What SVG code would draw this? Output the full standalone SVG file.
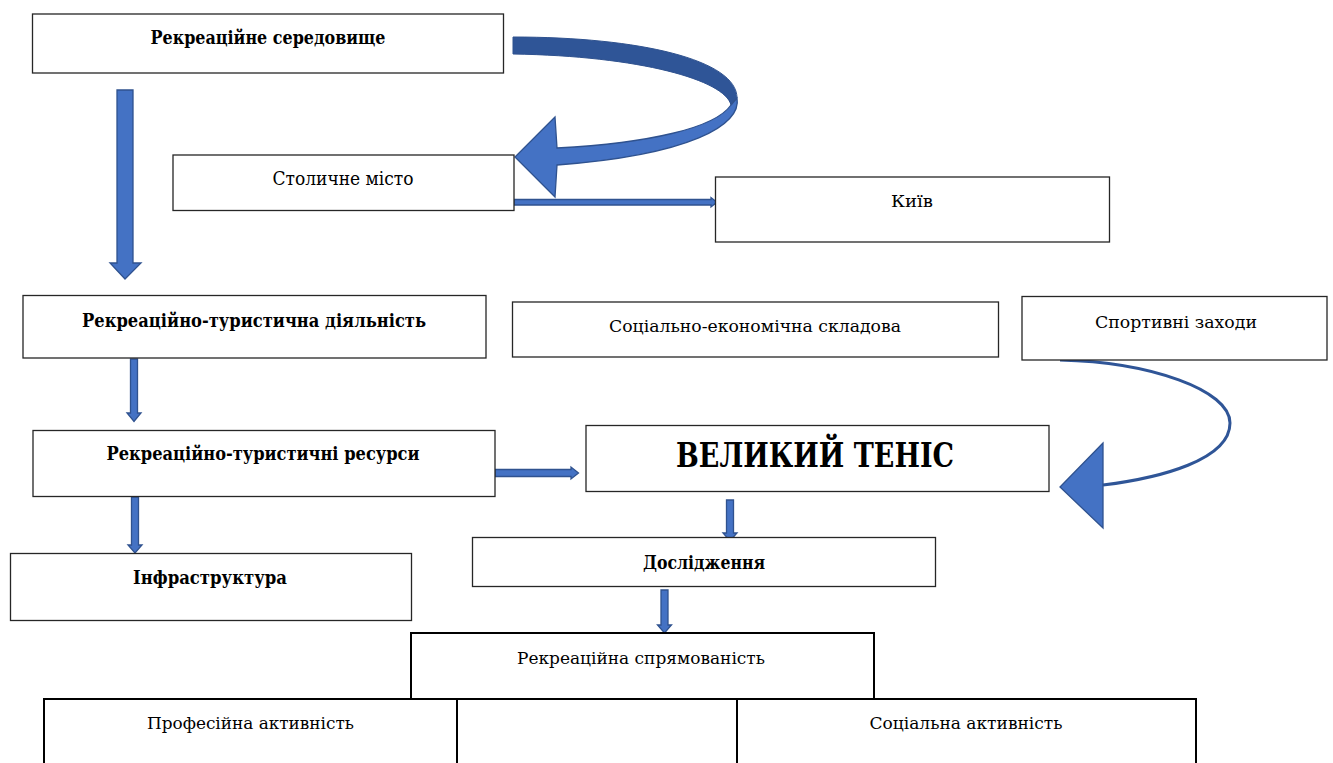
<svg xmlns="http://www.w3.org/2000/svg" width="1333" height="763" viewBox="0 0 1333 763">
<style>
.box{fill:#fff;stroke:#262626;stroke-width:1.3}
.box2{fill:#fff;stroke:#000;stroke-width:2}
.t{font-family:"DejaVu Serif","Liberation Serif",serif;fill:#000;text-anchor:middle}
.b{font-weight:bold;font-size:19px}
.r{font-size:17px}
.blk{fill:#4472C4;stroke:#2F528F;stroke-width:1.3;stroke-linejoin:miter}
.dark{fill:#2F5597;stroke:#2F528F;stroke-width:1}
</style>
<rect width="1333" height="763" fill="#fff"/>
<g id="connectors">
  <path class="dark" d="M513,37 C640,37 737,60 737,98 L731,105 C725,80 640,56 513,54 Z"/>
  <path class="blk" d="M737,98 C742,125 690,155 557,165 L555,197 L515,157 L555,117 L557,148 C650,143 715,128 731,105 Z"/>
  <polygon class="blk" points="117,90 133,90 133,263 141,263 125,279 110,263 117,263"/>
  <polygon class="blk" points="514,199.5 711,199.5 711,197.5 717,202.2 711,207 711,205 514,205"/>
  <polygon class="blk" points="130.5,359 137.5,359 137.5,413 141,413 134,421.5 127,413 130.5,413"/>
  <polygon class="blk" points="131.5,497 138.5,497 138.5,545 142,545 135,553 128,545 131.5,545"/>
  <polygon class="blk" points="495,469.5 571,469.5 571,467 578.5,473 571,479 571,476.5 495,476.5"/>
  <polygon class="blk" points="726.5,500 733.5,500 733.5,533 737,533 730,541 723,533 726.5,533"/>
  <polygon class="blk" points="661,590 668,590 668,625 671.5,625 664.5,633 657.5,625 661,625"/>
  <path d="M1060,360 C1150,362 1230,390 1230,423 C1230,460 1160,478 1103,485" fill="none" stroke="#2F5597" stroke-width="3"/>
  <polygon class="blk" points="1103,443 1060,487 1103,528"/>
</g>
<g id="n1"><rect class="box" x="32.5" y="14" width="471" height="59"/><text class="t b" x="268" y="44" textLength="235" lengthAdjust="spacingAndGlyphs">Рекреаційне середовище</text></g>
<g id="n2"><rect class="box" x="173" y="155" width="341" height="55.5"/><text class="t r" style="font-size:18px" x="343" y="185" textLength="141" lengthAdjust="spacingAndGlyphs">Столичне місто</text></g>
<g id="n3"><rect class="box" x="715.5" y="177" width="394" height="65"/><text class="t r" x="912" y="207" textLength="42" lengthAdjust="spacingAndGlyphs">Київ</text></g>
<g id="n4"><rect class="box" x="23" y="295.5" width="463" height="62.5"/><text class="t b" x="254" y="327" textLength="344" lengthAdjust="spacingAndGlyphs">Рекреаційно-туристична діяльність</text></g>
<g id="n5"><rect class="box" x="512.5" y="302" width="486" height="55"/><text class="t r" x="755" y="332" textLength="292" lengthAdjust="spacingAndGlyphs">Соціально-економічна складова</text></g>
<g id="n6"><rect class="box" x="1022" y="296.5" width="305" height="63.5"/><text class="t r" x="1176" y="328" textLength="162" lengthAdjust="spacingAndGlyphs">Спортивні заходи</text></g>
<g id="n7"><rect class="box" x="33" y="430.5" width="462" height="66"/><text class="t b" x="263" y="460" textLength="313" lengthAdjust="spacingAndGlyphs">Рекреаційно-туристичні ресурси</text></g>
<g id="n8"><rect class="box" x="586" y="425.5" width="463" height="66"/><text class="t b" style="font-size:34px" x="815" y="467" textLength="278" lengthAdjust="spacingAndGlyphs">ВЕЛИКИЙ ТЕНІС</text></g>
<g id="n9"><rect class="box" x="10.5" y="553.5" width="401" height="67"/><text class="t b" x="210" y="584" textLength="154" lengthAdjust="spacingAndGlyphs">Інфраструктура</text></g>
<g id="n10"><rect class="box" x="472.5" y="537.5" width="463" height="49"/><text class="t b" x="704" y="569" textLength="122" lengthAdjust="spacingAndGlyphs">Дослідження</text></g>
<g id="n11"><rect class="box2" x="411" y="633" width="463" height="66"/><text class="t r" x="641" y="664" textLength="248" lengthAdjust="spacingAndGlyphs">Рекреаційна спрямованість</text></g>
<g id="n12"><rect class="box2" x="44" y="699" width="413" height="70"/><text class="t r" x="250.5" y="729" textLength="207" lengthAdjust="spacingAndGlyphs">Професійна активність</text></g>
<g id="n13"><rect class="box2" x="457" y="699" width="280" height="70"/></g>
<g id="n14"><rect class="box2" x="737" y="699" width="459" height="70"/><text class="t r" x="966" y="729" textLength="193" lengthAdjust="spacingAndGlyphs">Соціальна активність</text></g>
</svg>
